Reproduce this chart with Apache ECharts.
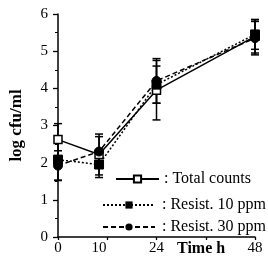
<!DOCTYPE html>
<html>
<head>
<meta charset="utf-8">
<script src="https://cdn.jsdelivr.net/npm/echarts@6/dist/echarts.min.js"></script>
<style>
  html, body { margin: 0; padding: 0; background: #fff; }
  #chart { width: 268px; height: 261px; }
</style>
</head>
<body>
<div id="chart"></div>
<script>
// sampling times (h)
var times = [0, 10, 24, 48];
var xLabels = [0, 10, 24, 48];
var xTicks = [0, 12, 24, 36, 48];

// log cfu/ml, means and error half-widths
var totalMean = [2.62, 2.22, 3.95, 5.40];
var totalErr = [0.43, 0.55, 0.80, 0.45];
var r10Mean = [2.08, 1.95, 4.10, 5.45];
var r10Err = [0.55, 0.35, 0.50, 0.40];
var r30Mean = [1.92, 2.30, 4.20, 5.35];
var r30Err = [0.40, 0.40, 0.60, 0.45];

var serif = "Liberation Serif";

function pts(means) {
  return times.map(function (t, i) { return [t, means[i]]; });
}
function bars(means, errs) {
  return times.map(function (t, i) { return [t, means[i] - errs[i], means[i] + errs[i]]; });
}

function errRender(params, api) {
  var lo = api.coord([api.value(0), api.value(1)]);
  var hi = api.coord([api.value(0), api.value(2)]);
  var w = 4;
  var st = { stroke: "#000", lineWidth: 1.5 };
  return {
    type: "group",
    children: [
      { type: "line", shape: { x1: lo[0], y1: lo[1], x2: hi[0], y2: hi[1] }, style: st },
      { type: "line", shape: { x1: lo[0] - w, y1: lo[1], x2: lo[0] + w, y2: lo[1] }, style: st },
      { type: "line", shape: { x1: hi[0] - w, y1: hi[1], x2: hi[0] + w, y2: hi[1] }, style: st }
    ]
  };
}

var legendText = { color: "#000", fontSize: 16, fontFamily: serif };

var chart = echarts.init(document.getElementById("chart"));
var option = {
  animation: false,
  textStyle: { fontFamily: serif },
  grid: { left: 53, right: 13, top: 14, bottom: 24 },
  xAxis: {
    type: "value",
    min: 0,
    max: 48,
    interval: 12,
    axisLine: { lineStyle: { color: "#000", width: 1.5 } },
    axisTick: { length: 3, customValues: xTicks, lineStyle: { color: "#000", width: 1.3 } },
    axisLabel: { customValues: xLabels, color: "#000", fontSize: 15, fontFamily: serif, margin: 4 },
    splitLine: { show: false }
  },
  yAxis: {
    type: "value",
    min: 0,
    max: 6,
    interval: 1,
    name: "log cfu/ml",
    nameLocation: "middle",
    nameGap: 33,
    nameTextStyle: { color: "#000", fontSize: 17, fontWeight: "bold", fontFamily: serif },
    axisLine: { show: true, lineStyle: { color: "#000", width: 1.5 } },
    axisTick: { length: 5, lineStyle: { color: "#000", width: 1.3 } },
    minorTick: { show: true, splitNumber: 2, length: 3, lineStyle: { color: "#000" } },
    axisLabel: { color: "#000", fontSize: 15, fontFamily: serif, margin: 10 },
    splitLine: { show: false }
  },
  legend: [
    {
      orient: "vertical",
      left: 110,
      top: 166,
      itemWidth: 43,
      itemHeight: 9,
      data: ["Total counts"],
      formatter: function (n) { return ": " + n; },
      textStyle: Object.assign({ padding: [0, 0, 0, 0] }, legendText)
    },
    {
      orient: "vertical",
      left: 97,
      top: 192,
      itemWidth: 52,
      itemHeight: 9,
      itemGap: 6,
      data: ["Resist. 10 ppm", "Resist. 30 ppm"],
      formatter: function (n) { return ": " + n; },
      textStyle: Object.assign({ padding: [0, 0, 0, 2] }, legendText)
    }
  ],
  graphic: [
    { type: "text", left: 177, top: 241, style: { text: "Time h", font: "bold 16px " + serif, fill: "#000" } }
  ],
  series: [
    { type: "custom", renderItem: errRender, data: bars(totalMean, totalErr), z: 1 },
    { type: "custom", renderItem: errRender, data: bars(r10Mean, r10Err), z: 1 },
    { type: "custom", renderItem: errRender, data: bars(r30Mean, r30Err), z: 1 },
    {
      name: "Total counts", type: "line", data: pts(totalMean),
      symbol: "rect", symbolSize: 8, z: 3,
      lineStyle: { color: "#000", width: 1.5, type: "solid" },
      itemStyle: { color: "#fff", borderColor: "#000", borderWidth: 1.5 }
    },
    {
      name: "Resist. 10 ppm", type: "line", data: pts(r10Mean),
      symbol: "rect", symbolSize: 9, z: 3,
      lineStyle: { color: "#000", width: 1.5, type: [2, 2] },
      itemStyle: { color: "#000", borderColor: "#000" }
    },
    {
      name: "Resist. 30 ppm", type: "line", data: pts(r30Mean),
      symbol: "circle", symbolSize: 9, z: 3,
      lineStyle: { color: "#000", width: 1.5, type: [5, 3] },
      itemStyle: { color: "#000", borderColor: "#000" }
    }
  ]
};
chart.setOption(option);
</script>
</body>
</html>
